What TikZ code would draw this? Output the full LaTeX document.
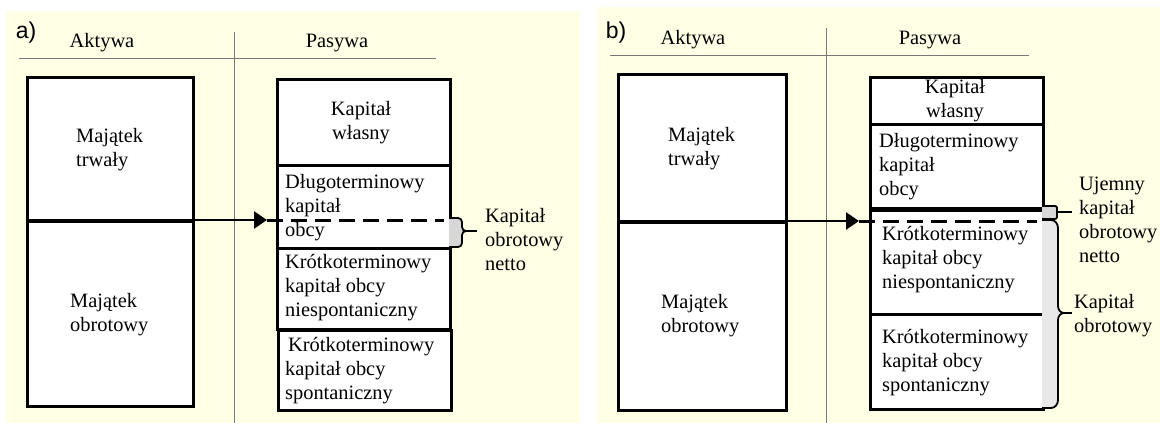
\documentclass[tikz,border=0pt]{standalone}
\usepackage{fontspec}
\setmainfont{Liberation Serif}
\newfontfamily\labfont{Liberation Sans}
\usetikzlibrary{arrows.meta}
\definecolor{bg}{RGB}{255,255,230}
\definecolor{smallfill}{RGB}{215,215,215}
\definecolor{bigfill}{RGB}{232,232,232}
\definecolor{hline}{RGB}{120,120,120}
\begin{document}
\begin{tikzpicture}[x=1pt,y=-1pt,
  box/.style 2 args={draw, line width=2.8pt, fill=white, anchor=north west, inner sep=0pt, minimum width=#1, minimum height=#2},
  txt/.style={font=\fontsize{20.4}{24}\selectfont, inner sep=0pt, align=left, anchor=west},
  ctxt/.style={font=\fontsize{20.4}{24}\selectfont, inner sep=0pt, align=center},
  plabel/.style={font=\labfont\fontsize{23}{26}\selectfont, inner sep=0pt},
  rule/.style={draw=hline, line width=1pt},
  flow/.style={line width=2.6pt, -{Triangle[length=13pt,width=17pt]}},
  dashline/.style={line width=3pt, dash pattern=on 16pt off 8pt},
  bracel/.style={line width=1.8pt}]
\useasboundingbox (0,0) rectangle (1160,423);
\fill[bg] (6,11) rectangle (580,423);
\fill[bg] (597,7) rectangle (1160,423);

% ---------------- panel a ----------------
\node[plabel] (alab) at (26,33) {a)};
\node[ctxt] (aakt) at (102,43) {Aktywa};
\node[ctxt] (apas) at (337,43) {Pasywa};
\coordinate (ahl1) at (19,58);
\coordinate (ahl2) at (436,58);
\coordinate (avl1) at (234,32);
\coordinate (avl2) at (234,423);
\draw[rule] (ahl1) -- (ahl2);
\draw[rule] (avl1) -- (avl2);

\node[box={166pt}{144pt}] (alt) at (26,76) {};
\node[box={166pt}{185pt}] (alb) at (26,220) {};
\node[box={173pt}{86pt}] (akw) at (276,78) {};
\node[box={173pt}{83pt}] (adl) at (276,164) {};
\node[box={173pt}{81pt}] (akn) at (276,247) {};
\node[box={173pt}{80pt}] (aks) at (277,329) {};

\node[txt] (at1) at (76,150) {Majątek\\trwały};
\node[txt] (at2) at (70,315) {Majątek\\obrotowy};
\node[ctxt] (at3) at (361,123) {Kapitał\\własny};
\node[txt] (at4) at (285,208) {Długoterminowy\\kapitał\\obcy};
\node[txt] (at5) at (285,288) {Krótkoterminowy\\kapitał obcy\\niespontaniczny};
\node[txt] (at6) at (285,371) {\hspace*{3pt}Krótkoterminowy\\kapitał obcy\\spontaniczny};
\node[txt] (at7) at (485,240) {Kapitał\\obrotowy\\netto};

\coordinate (aarr) at (26,220);
\coordinate (atip) at (267,220);
\coordinate (aend) at (444,220);
\draw[flow] (aarr) -- (atip);
\draw[dashline] (atip) -- (aend);

\fill[smallfill] (449,218) -- (458,218) to[out=0,in=90] (462,222) -- (462,227) to[out=-90,in=180] (466,231)
  to[out=180,in=90] (462,235) -- (462,243) to[out=-90,in=0] (458,247) -- (449,247) -- cycle;
\draw[bracel] (449,218) -- (458,218) to[out=0,in=90] (462,222) -- (462,227) to[out=-90,in=180] (466,231);
\draw[bracel] (449,247) -- (458,247) to[out=0,in=-90] (462,243) -- (462,235) to[out=90,in=180] (466,231);
\coordinate (abt) at (466,231);
\coordinate (abe) at (477,231);
\draw[bracel] (abt) -- (abe);

% ---------------- panel b ----------------
\node[plabel] (blab) at (616,33) {b)};
\node[ctxt] (bakt) at (693,40) {Aktywa};
\node[ctxt] (bpas) at (930,40) {Pasywa};
\coordinate (bhl1) at (610,55);
\coordinate (bhl2) at (1029,55);
\coordinate (bvl1) at (826,28);
\coordinate (bvl2) at (826,423);
\draw[rule] (bhl1) -- (bhl2);
\draw[rule] (bvl1) -- (bvl2);

\node[box={168pt}{148pt}] (blt) at (617,73) {};
\node[box={168pt}{188pt}] (blb) at (617,221) {};
\node[box={173pt}{47pt}] (bkw) at (869,76) {};
\node[box={173pt}{84pt}] (bdl) at (869,123) {};
\node[box={173pt}{104pt}] (bkn) at (869,209) {};
\node[box={173pt}{95pt}] (bks) at (869,313) {};

\node[txt] (bt1) at (668,149) {Majątek\\trwały};
\node[txt] (bt2) at (661,316) {Majątek\\obrotowy};
\node[ctxt] (bt3) at (955,101) {Kapitał\\własny};
\node[txt] (bt4) at (879,167) {Długoterminowy\\kapitał\\obcy};
\node[txt] (bt5) at (882,260) {Krótkoterminowy\\kapitał obcy\\niespontaniczny};
\node[txt] (bt6) at (882,363) {Krótkoterminowy\\kapitał obcy\\spontaniczny};
\node[txt] (bt7) at (1079,220) {Ujemny\\kapitał\\obrotowy\\netto};
\node[txt] (bt8) at (1074,316) {Kapitał\\obrotowy};

\coordinate (barr) at (617,221);
\coordinate (btip) at (859,221);
\coordinate (bend) at (1037,221);
\draw[flow] (barr) -- (btip);
\draw[dashline] (btip) -- (bend);

\filldraw[fill=smallfill, line width=1.8pt, rounded corners=2pt] (1042,206) -- (1057,206) -- (1057,219) -- (1042,219);
\coordinate (bst) at (1057,212);
\coordinate (bse) at (1072,212);
\draw[bracel] (bst) -- (bse);

\fill[bigfill] (1042,220) -- (1051,220) to[out=0,in=90] (1058,228) -- (1058,306) to[out=-90,in=180] (1064,313)
  to[out=180,in=90] (1058,320) -- (1058,400) to[out=-90,in=0] (1051,408) -- (1042,408) -- cycle;
\draw[bracel] (1042,220) -- (1051,220) to[out=0,in=90] (1058,228) -- (1058,306) to[out=-90,in=180] (1064,313);
\draw[bracel] (1042,408) -- (1051,408) to[out=0,in=-90] (1058,400) -- (1058,320) to[out=90,in=180] (1064,313);
\coordinate (bbt) at (1064,313);
\coordinate (bbe) at (1072,313);
\draw[bracel] (bbt) -- (bbe);
\end{tikzpicture}
\end{document}
